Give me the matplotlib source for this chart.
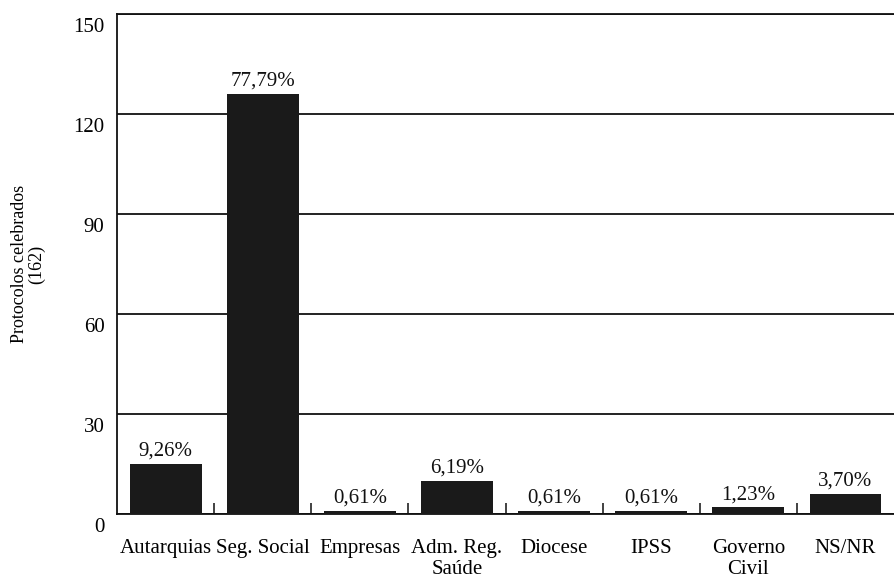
import numpy as np
import matplotlib.pyplot as plt
import matplotlib.transforms as mtransforms

# Categories and values
categories = ['Autarquias', 'Seg. Social', 'Empresas', 'Adm. Reg.\nSaúde',
              'Diocese', 'IPSS', 'Governo\nCivil', 'NS/NR']
counts = [15, 126, 1, 10, 1, 1, 2, 6]
pct_labels = ['9,26%', '77,79%', '0,61%', '6,19%', '0,61%', '0,61%', '1,23%', '3,70%']
y_ticks = [0, 30, 60, 90, 120, 150]

plt.rcParams['font.family'] = ['Liberation Serif', 'DejaVu Serif']
fs = 15

fig = plt.figure(figsize=(8.94, 5.77), dpi=100)
ax = fig.add_axes([0.131, 0.109, 0.869, 0.867])

x = np.arange(len(categories))
bars = ax.bar(x, counts, width=0.74, color='#1a1a1a', zorder=3)

# percentage labels above the bars
for rect, lab in zip(bars, pct_labels):
    ax.text(rect.get_x() + rect.get_width() / 2, rect.get_height() + 1.0, lab,
            ha='center', va='bottom', fontsize=fs, color='#111111')

ax.set_xlim(-0.5, len(categories) - 0.5)
ax.set_ylim(0, 150)
ax.set_yticks(y_ticks)
ax.set_xticks(x)
ax.set_xticklabels(categories, fontsize=fs, linespacing=1.1)
ax.tick_params(axis='x', length=0, pad=18)
ax.tick_params(axis='y', length=0, pad=9, labelsize=fs)

# y labels sit a bit below their gridline in the reference
shift = mtransforms.ScaledTranslation(0, -11 / 100, fig.dpi_scale_trans)
for lab in ax.get_yticklabels():
    lab.set_transform(lab.get_transform() + shift)

# small separators between categories
ax.set_xticks(np.arange(0.5, len(categories) - 1, 1.0), minor=True)
ax.tick_params(axis='x', which='minor', direction='in', length=8, width=1.2, color='#222222')

ax.yaxis.grid(True, color='#111111', linewidth=1.3, zorder=0)
ax.set_axisbelow(True)
ax.spines['right'].set_visible(False)
for s in ['left', 'bottom', 'top']:
    ax.spines[s].set_linewidth(1.3)
    ax.spines[s].set_color('#111111')

ax.set_ylabel('Protocolos celebrados\n(162)', fontsize=13, linespacing=1.05)
ax.yaxis.set_label_coords(-0.092, 0.5)

fig.savefig('out.png', dpi=100)
